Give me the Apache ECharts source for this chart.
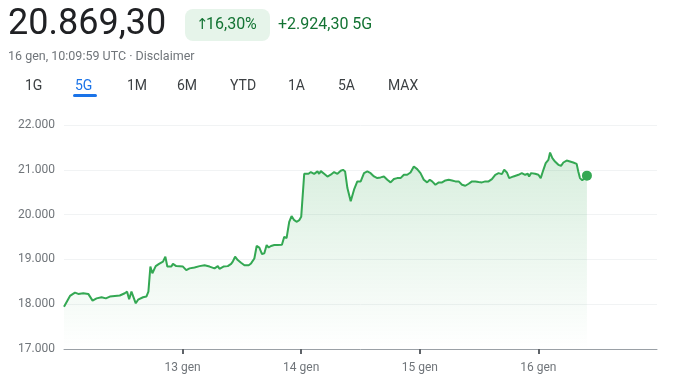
<!DOCTYPE html>
<html>
<head>
<meta charset="utf-8">
<script src="https://cdn.jsdelivr.net/npm/echarts@6/dist/echarts.min.js"></script>
<style>
html,body{margin:0;padding:0;background:#fff;}
#chart{width:681px;height:390px;}
</style>
</head>
<body>
<div id="chart"></div>
<script>
// hours since 12 gen 00:00 UTC
const hours = [0,0.40,1.21,2.22,2.89,3.90,4.91,5.78,6.59,7.60,8.47,9.28,10.29,11.29,12.30,12.77,13.18,13.65,14.52,14.99,16.00,16.67,17.08,17.48,17.88,18.56,19.23,20.03,20.51,20.91,21.72,22.05,22.72,24.07,24.74,25.41,26.42,27.43,28.44,29.45,30.46,31.13,31.46,32.27,33.14,33.82,34.15,34.62,35.16,35.83,36.51,37.38,37.85,38.52,38.99,39.53,40.07,40.54,41.01,41.41,41.88,42.56,43.23,43.56,44.10,44.57,45.04,45.58,46.05,46.59,47.13,47.60,48.00,48.61,48.94,49.48,49.95,50.62,51.30,51.63,51.97,52.64,53.31,53.98,54.66,55.33,56.00,56.47,56.88,57.35,58.02,58.69,59.36,60.04,60.71,61.38,62.05,62.73,63.40,64.07,64.74,65.42,66.09,66.76,67.43,68.10,68.78,69.45,70.12,70.79,71.47,72.14,72.81,73.48,74.02,74.49,75.16,75.84,76.51,77.18,77.85,78.52,79.20,79.87,80.54,81.21,81.89,82.56,83.23,83.90,84.58,85.25,85.92,86.59,87.27,87.94,88.61,89.08,89.62,90.09,90.96,91.97,92.64,93.31,93.85,94.12,94.52,95.33,96.00,96.47,97.01,97.48,98.02,98.36,98.83,99.36,100.04,100.58,101.05,101.72,102.39,103.06,103.74,104.07,104.41,104.88,105.28,105.82];
const prices = [17945,17985,18185,18260,18230,18245,18230,18080,18130,18155,18130,18170,18185,18195,18245,18280,18110,18280,18020,18100,18155,18170,18280,18840,18690,18850,18900,18950,19060,18840,18840,18900,18850,18840,18760,18800,18820,18850,18870,18840,18800,18850,18790,18840,18850,18900,18950,19060,18985,18925,18870,18870,18910,19020,19300,19265,19120,19135,19320,19265,19300,19320,19320,19355,19325,19505,19475,19840,19965,19875,19840,19875,19950,20910,20935,20910,20950,20910,20965,20910,20970,20910,20850,20890,20950,20910,20978,21000,20963,20593,20296,20556,20741,20741,20925,20963,20925,20852,20815,20830,20852,20778,20719,20793,20815,20815,20889,20889,20940,21074,21015,20925,20778,20719,20778,20741,20667,20719,20719,20763,20778,20763,20741,20741,20667,20644,20689,20741,20741,20726,20719,20741,20741,20793,20889,20926,20904,21000,20941,20815,20852,20889,20926,20889,20911,20852,20926,20911,20889,20815,21000,21148,21222,21385,21259,21185,21111,21089,21163,21207,21185,21163,21133,20963,20815,20763,20815,20869.30];
const xTickHours = [24,48,72,96];
const xTickLabels = ['13 gen','14 gen','15 gen','16 gen'];
const yTicks = [17000,18000,19000,20000,21000,22000];
const tabs = ['1G','5G','1M','6M','YTD','1A','5A','MAX'];

const green = '#34a853';
const lineData = hours.map((h,i)=>[h,prices[i]]);
const lastPoint = [hours[hours.length-1], prices[prices.length-1]];
const fmtY = v => String(v).replace(/\B(?=(\d{3})+(?!\d))/g,'.');

const tabX = [25,75,127,177,230,288,338,388];
const graphics = [
  {type:'text', left:8, top:7, style:{text:'20.869,30', font:'36px Roboto', fill:'#202124'}},
  {type:'rect', shape:{x:185,y:9,width:85,height:32,r:8}, style:{fill:'#e6f4ea'}},
  {type:'text', x:196, y:25, style:{text:'↑', font:'15px "DejaVu Sans"', fill:'#137333', verticalAlign:'middle'}},
  {type:'text', x:206, y:25, style:{text:'16,30%', font:'16px Roboto', fill:'#137333', verticalAlign:'middle'}},
  {type:'text', x:278, y:25, style:{text:'+2.924,30 5G', font:'16px Roboto', fill:'#137333', verticalAlign:'middle'}},
  {type:'text', x:8, y:57, style:{text:'16 gen, 10:09:59 UTC · Disclaimer', font:'12.5px Roboto', fill:'#70757a', verticalAlign:'middle'}},
  {type:'rect', shape:{x:73,y:94,width:24,height:3,r:1.5}, style:{fill:'#1a73e8'}}
];
tabs.forEach((t,i)=>{
  graphics.push({type:'text', x:tabX[i], y:86, style:{text:t, font:'14px Roboto', fill: i===1?'#1a73e8':'#3c4043', verticalAlign:'middle'}});
});

const chart = echarts.init(document.getElementById('chart'));
chart.setOption({
  animation:false,
  graphic: graphics,
  grid:{left:64, right:24, top:125, bottom:41, containLabel:false},
  xAxis:{
    type:'value', min:0, max:120, interval:24,
    axisLine:{show:true, lineStyle:{color:'#9aa0a6', width:1}},
    axisTick:{show:true, customValues:xTickHours, length:5, lineStyle:{color:'#5f6368', width:2}},
    axisLabel:{customValues:xTickHours, formatter:v=>xTickLabels[xTickHours.indexOf(v)]||'', color:'#70757a', fontSize:12, fontFamily:'Roboto', margin:13},
    splitLine:{show:false}
  },
  yAxis:{
    type:'value', min:yTicks[0], max:yTicks[yTicks.length-1], interval:1000,
    axisLine:{show:false}, axisTick:{show:false},
    axisLabel:{formatter:fmtY, color:'#70757a', fontSize:12, fontFamily:'Roboto', margin:9},
    splitLine:{lineStyle:{color:'#f1f3f4', width:1}}
  },
  series:[
    {
      type:'line', data:lineData, showSymbol:false, symbol:'none',
      lineStyle:{color:green, width:2},
      areaStyle:{color:new echarts.graphic.LinearGradient(0,0,0,1,[
        {offset:0,color:'rgba(52,168,83,0.28)'},
        {offset:1,color:'rgba(52,168,83,0.0)'}
      ])},
      z:2
    },
    {
      type:'scatter', data:[lastPoint], symbolSize:10, itemStyle:{color:green, opacity:1}, z:3
    }
  ]
});
</script>
</body>
</html>
